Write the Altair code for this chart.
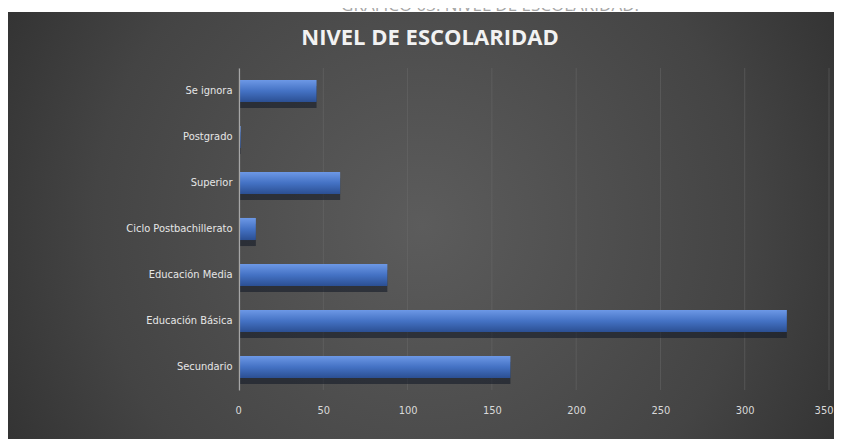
import altair as alt
import pandas as pd

categories = ["Se ignora", "Postgrado", "Superior", "Ciclo Postbachillerato",
              "Educación Media", "Educación Básica", "Secundario"]
values = [46, 1, 60, 10, 88, 325, 161]
x_ticks = [0, 50, 100, 150, 200, 250, 300, 350]
main_title = "NIVEL DE ESCOLARIDAD"
page_title = "GRÁFICO 03: NIVEL DE ESCOLARIDAD."

df = pd.DataFrame({"cat": categories, "val": values})
grid_df = pd.DataFrame({"val": x_ticks})
one = pd.DataFrame({"k": [0]})

FONT = "Liberation Sans Narrow, DejaVu Sans Condensed, Roboto, sans-serif"

panel = alt.Chart(one).mark_rect(
    fill={"gradient": "radial", "x1": 0.5, "y1": 0.5, "r1": 0,
          "x2": 0.5, "y2": 0.5, "r2": 0.72,
          "stops": [{"offset": 0, "color": "#5c5c5c"},
                    {"offset": 0.55, "color": "#444444"},
                    {"offset": 1, "color": "#242424"}]}
).encode(x=alt.value(-231), x2=alt.value(597), y=alt.value(-56), y2=alt.value(371))

top_text = alt.Chart(pd.DataFrame({"t": [page_title]})).mark_text(
    font="Open Sans", fontSize=17, color="#a6a6a6", baseline="alphabetic", align="center"
).encode(text="t:N", x=alt.value(251), y=alt.value(-57))

title_text = alt.Chart(pd.DataFrame({"t": [main_title]})).mark_text(
    font="Open Sans", fontSize=22, fontWeight="bold", color="#f2f2f2",
    baseline="middle", align="center"
).encode(text="t:N", x=alt.value(191), y=alt.value(-30))

xscale = alt.Scale(domain=[0, 350], nice=False)
xaxis = alt.Axis(values=x_ticks, domain=False, ticks=False, grid=False,
                 labelPadding=14, labelColor="#d9d9d9", labelFontSize=11,
                 labelFont=FONT, labelFlush=True, labelFlushOffset=4,
                 labelOverlap=False, zindex=1)
xenc = alt.X("val:Q", title=None, scale=xscale, axis=xaxis)

grid = alt.Chart(grid_df).mark_rule(color="#6e6e6e", opacity=0.45, strokeWidth=1).encode(
    x=xenc, y=alt.value(0), y2=alt.value(322))

yenc = alt.Y("cat:N", sort=categories, title=None,
             scale=alt.Scale(paddingInner=0.52, paddingOuter=0.26),
             axis=alt.Axis(domain=True, domainColor="#a6a6a6", domainWidth=1.2,
                           ticks=False, labelPadding=7, labelColor="#e6e6e6",
                           labelFontSize=11, labelFont=FONT, labelLimit=200, zindex=1))

shadow = alt.Chart(df).mark_bar(yOffset=6, color="#141a28", opacity=0.6).encode(y=yenc, x=xenc)

bars = alt.Chart(df).mark_bar(
    fill={"gradient": "linear", "x1": 0, "y1": 0, "x2": 0, "y2": 1,
          "stops": [{"offset": 0, "color": "#6d98e6"},
                    {"offset": 0.5, "color": "#4472C4"},
                    {"offset": 1, "color": "#2b4f93"}]}
).encode(y=yenc, x=xenc)

chart = alt.layer(panel, top_text, title_text, grid, shadow, bars).properties(
    width=590, height=322,
    padding={"left": 231, "top": 60, "right": 5, "bottom": 49},
    autosize=alt.AutoSizeParams(type="none"),
    background="white",
).configure_view(strokeWidth=0)

chart.save("out.html", embed_options={"renderer": "svg", "actions": False})
